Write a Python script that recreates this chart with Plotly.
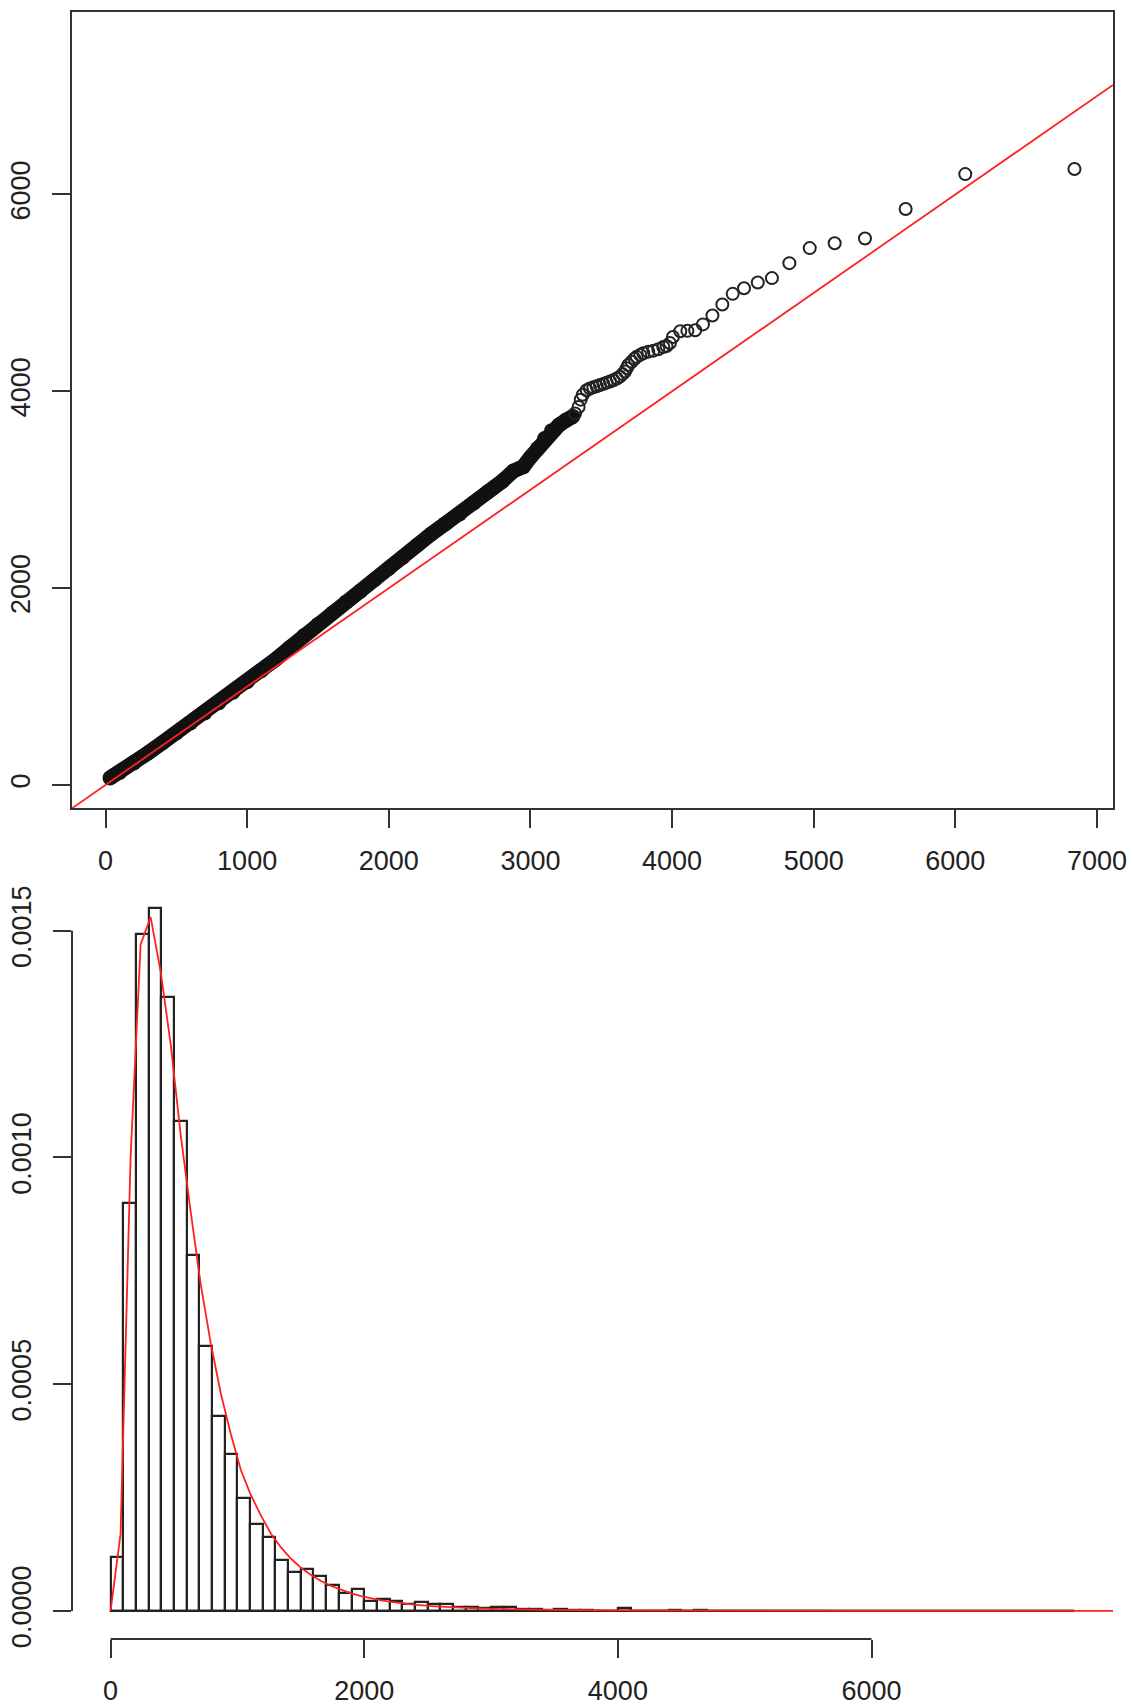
import plotly.graph_objects as go

# ---------------- Q-Q plot data (theoretical vs. sample quantiles) ----------------
# densely packed part of the point cloud (centre line of the overlapping markers)
band_theo = [32, 100, 200, 300, 400, 500, 600, 700, 800, 900, 1000, 1100, 1200, 1300,
             1400, 1500, 1600, 1700, 1800, 1900, 2000, 2100, 2200, 2300, 2400, 2500,
             2600, 2700, 2800, 2880, 2950, 3000, 3050, 3100, 3150, 3200, 3250, 3300]
band_samp = [72, 128, 225, 325, 427, 528, 630, 732, 836, 942, 1050, 1160, 1275, 1395,
             1515, 1630, 1745, 1860, 1970, 2085, 2200, 2315, 2435, 2550, 2655, 2755,
             2865, 2980, 3085, 3190, 3235, 3330, 3420, 3520, 3600, 3655, 3705, 3745]

# upper quantiles, where individual circles are distinguishable
tail_theo = [3315, 3340, 3355, 3370, 3397, 3420, 3444, 3468,
             3491, 3515, 3538, 3562, 3585, 3610, 3632, 3650, 3668, 3680, 3691, 3715,
             3735, 3750, 3775, 3797, 3832, 3868, 3903, 3938, 3961, 3985, 4006, 4058,
             4108, 4163, 4218, 4285, 4355, 4428, 4508, 4605, 4705, 4828, 4972, 5148,
             5362, 5649, 6070, 6841]
tail_samp = [3775, 3840, 3915, 3965, 4010, 4028, 4040, 4052,
             4064, 4075, 4088, 4100, 4113, 4130, 4149, 4175, 4200, 4235, 4267, 4300,
             4330, 4350, 4370, 4386, 4403, 4413, 4427, 4450, 4460, 4490, 4552, 4610,
             4614, 4620, 4680, 4770, 4882, 4990, 5047, 5106, 5150, 5302, 5455, 5505,
             5552, 5853, 6207, 6258]

# reference line y = a + b x
ref_intercept = 0
ref_slope = 1

qq_xticks = [0, 1000, 2000, 3000, 4000, 5000, 6000, 7000]
qq_yticks = [0, 2000, 4000, 6000]
qq_xrange = [-236.5, 7113]
qq_yrange = [-234, 7854]

# ---------------- histogram (density scale) ----------------
bin_start = 0
bin_width = 100
hist_density = [
    0.000118, 0.000899, 0.001493, 0.001550, 0.001354, 0.001081, 0.000785, 0.000584,
    0.000430, 0.000346, 0.000249, 0.000192, 0.000164, 0.000112, 0.0000853, 0.0000926,
    0.0000772, 0.0000573, 0.0000404, 0.0000478, 0.0000221, 0.0000272, 0.0000228, 0.0000154,
    0.0000191, 0.0000154, 0.0000154, 0.0000096, 0.0000088, 0.0000066, 0.0000090, 0.0000090,
    0.0000051, 0.0000051, 0.0000030, 0.0000045, 0.0000030, 0.0000030, 0.0, 0.0,
    0.0000066, 0.0, 0.0, 0.0, 0.0000030, 0.0, 0.0000030, 0.0,
    0.0, 0.0, 0.0, 0.0, 0.0, 0.0, 0.0, 0.0,
    0.0, 0.0, 0.0, 0.0, 0.0, 0.0, 0.0, 0.0,
    0.0, 0.0, 0.0, 0.0, 0.0, 0.0, 0.0, 0.0,
    0.0, 0.0, 0.0, 0.0,
]

# fitted density curve
curve_x = [0, 79, 158, 237, 316, 395, 474, 553, 632, 711, 790, 869, 948, 1028, 1107,
           1186, 1265, 1344, 1423, 1502, 1581, 1660, 1739, 1818, 1897, 1976, 2055, 2134,
           2213, 2292, 2371, 2530, 2688, 2846, 3004, 3162, 3478, 3952, 4742, 5928, 7904]
curve_y = [0, 0.00017, 0.00100, 0.00147, 0.00153, 0.00141, 0.00125, 0.00105, 0.00088,
           0.00072, 0.00059, 0.00048, 0.00039, 0.00031, 0.000255, 0.00021, 0.00017,
           0.00014, 0.000115, 0.000095, 0.000079, 0.000066, 0.000055, 0.000046,
           0.0000385, 0.0000325, 0.0000275, 0.0000234, 0.00002, 0.000017, 0.0000145,
           0.0000107, 0.000008, 0.000006, 0.0000045, 0.0000035, 0.0000021, 0.000001,
           0.0000004, 0.0000001, 0]

h_xticks = [0, 2000, 4000, 6000]
h_yticks = [0, 0.0005, 0.0010, 0.0015]
h_yticktext = ["0.0000", "0.0005", "0.0010", "0.0015"]
h_xrange = [-304, 7904]
h_yrange = [-0.000062, 0.001612]

# ---------------- figure ----------------
W, H = 1132, 1707
INK = "#222222"
AXIS = "#333333"
FONT = dict(family="Liberation Sans, Arial, Helvetica, sans-serif", size=27, color=INK)

fig = go.Figure()

# Q-Q: dense band of overlapping circles
fig.add_trace(go.Scatter(
    x=band_theo, y=band_samp, mode="lines+markers", xaxis="x", yaxis="y",
    line=dict(color="#111111", width=15),
    marker=dict(symbol="circle", size=15, color="#111111"),
    hoverinfo="skip"))
# Q-Q: upper quantiles as open circles
fig.add_trace(go.Scatter(
    x=tail_theo, y=tail_samp, mode="markers", xaxis="x", yaxis="y",
    marker=dict(symbol="circle-open", size=12, color=INK, line=dict(width=2, color=INK)),
    hoverinfo="skip"))
# Q-Q: reference line across the whole panel
ref_x = [qq_xrange[0], qq_xrange[1]]
ref_y = [ref_intercept + ref_slope * v for v in ref_x]
fig.add_trace(go.Scatter(
    x=ref_x, y=ref_y, mode="lines", xaxis="x", yaxis="y",
    line=dict(color="#ff2020", width=1.8), hoverinfo="skip"))

# histogram bars
centers = [bin_start + bin_width * (i + 0.5) for i in range(len(hist_density))]
fig.add_trace(go.Bar(
    x=centers, y=hist_density, width=bin_width, xaxis="x2", yaxis="y2",
    marker=dict(color="white", line=dict(color=INK, width=2.2)),
    hoverinfo="skip"))
# empty bins collapse onto the baseline
hist_end = bin_start + bin_width * len(hist_density)
fig.add_trace(go.Scatter(
    x=[bin_start, hist_end], y=[0, 0], mode="lines", xaxis="x2", yaxis="y2",
    line=dict(color=INK, width=2.2), hoverinfo="skip"))
# fitted density
fig.add_trace(go.Scatter(
    x=curve_x, y=curve_y, mode="lines", xaxis="x2", yaxis="y2",
    line=dict(color="#ff2020", width=1.8), hoverinfo="skip"))

x_dom = [72 / W, 1113 / W]
top_dom = [1 - 808 / H, 1 - 12 / H]
bot_dom = [1 - 1639 / H, 1 - 880 / H]

common = dict(showgrid=False, zeroline=False, ticks="outside", ticklen=18, tickwidth=2,
              tickcolor=AXIS, tickfont=FONT, automargin=False)

fig.update_layout(
    width=W, height=H, margin=dict(l=0, r=0, t=0, b=0),
    paper_bgcolor="white", plot_bgcolor="white", showlegend=False,
    bargap=0,
    xaxis=dict(domain=x_dom, range=qq_xrange, tickvals=qq_xticks, anchor="y",
               showline=True, linecolor=AXIS, linewidth=2, mirror=True,
               ticklabelstandoff=10, **common),
    yaxis=dict(domain=top_dom, range=qq_yrange, tickvals=qq_yticks, anchor="x",
               showline=True, linecolor=AXIS, linewidth=2, mirror=True,
               tickangle=-90, ticklabelstandoff=11, **common),
    xaxis2=dict(domain=x_dom, range=h_xrange, tickvals=h_xticks, anchor="y2",
                showline=False, ticklabelstandoff=10, **common),
    yaxis2=dict(domain=bot_dom, range=h_yrange, tickvals=h_yticks, ticktext=h_yticktext,
                anchor="x2", showline=False, tickangle=-90, ticklabelstandoff=11, **common),
    shapes=[
        # axis lines of the histogram span only the labelled tick range
        dict(type="line", xref="x2", yref="y2 domain", x0=h_xticks[0], x1=h_xticks[-1],
             y0=0, y1=0, line=dict(color=AXIS, width=2)),
        dict(type="line", xref="x2 domain", yref="y2", x0=0, x1=0,
             y0=h_yticks[0], y1=h_yticks[-1], line=dict(color=AXIS, width=2)),
    ],
)

fig.write_html("out.html", config={"displayModeBar": False})
